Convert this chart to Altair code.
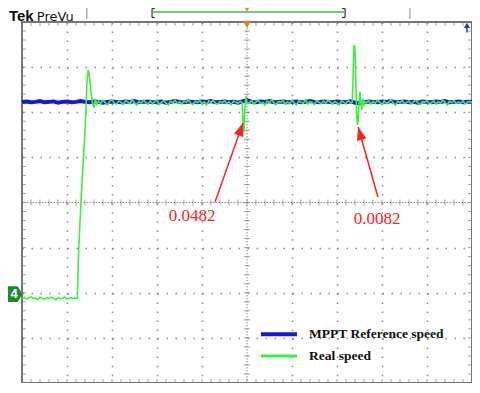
import altair as alt
import pandas as pd
import numpy as np

# ---------------- data (in screen divisions: x 0..10, y -4..4) ----------------
blue_step = 0.1
blue_v = [2.23,2.24,2.22,2.23,2.25,2.22,2.23,2.24,2.21,2.23,
          2.24,2.22,2.23,2.25,2.23,2.22,2.24,2.23,2.21,2.23,
          2.24,2.23,2.22,2.24,2.23,2.25,2.22,2.23,2.24,2.22,
          2.23,2.24,2.21,2.23,2.25,2.23,2.22,2.24,2.23,2.22,
          2.24,2.23,2.25,2.22,2.23,2.24,2.22,2.23,2.21,2.24,
          2.27,2.23,2.22,2.24,2.23,2.25,2.22,2.23,2.24,2.22,
          2.23,2.24,2.22,2.23,2.25,2.23,2.22,2.24,2.23,2.22,
          2.24,2.23,2.22,2.24,2.21,2.20,2.22,2.24,2.23,2.22,
          2.24,2.23,2.25,2.22,2.23,2.24,2.22,2.23,2.21,2.24,
          2.23,2.22,2.24,2.23,2.25,2.22,2.23,2.24,2.22,2.23,
          2.23]

green_pre_start, green_step = 0.0, 0.05
green_pre_v = [-2.13,-2.10,-2.14,-2.11,-2.09,-2.13,-2.12,-2.15,-2.10,-2.12,
               -2.14,-2.11,-2.13,-2.10,-2.12,-2.15,-2.11,-2.13,-2.12,-2.10,
               -2.14,-2.12,-2.11,-2.13,-2.12]
green_rise_t = [1.23,1.245,1.255,1.28,1.31,1.35,1.39,1.42,1.44,1.46,1.475,1.49,1.51,1.53,1.55,1.57,1.60,1.63,1.66]
green_rise_v = [-2.12,-1.6,-1.16,-0.61,0.0,0.72,1.39,2.0,2.6,2.85,2.94,2.88,2.7,2.5,2.32,2.16,2.12,2.3,2.18]
green_mid1_start = 1.70
green_mid1_v = [2.25,2.19,2.27,2.21,2.16,2.24,2.28,2.20,2.18,2.25,
                2.22,2.17,2.26,2.23,2.19,2.28,2.21,2.16,2.24,2.20,
                2.27,2.22,2.18,2.25,2.19,2.23,2.28,2.17,2.22,2.26,
                2.20,2.16,2.24,2.21,2.27,2.19,2.23,2.18,2.25,2.22,
                2.28,2.20,2.17,2.24,2.21,2.26,2.19,2.23,2.16,2.25,
                2.22,2.27,2.20,2.18,2.24,2.21,2.26,2.19,2.23,2.17,
                2.25,2.22,2.20,2.24]
green_dip_t = [4.89,4.905,4.92,4.935,4.95,4.965,4.98,5.00]
green_dip_v = [2.21,1.95,1.55,1.62,2.05,2.22,2.36,2.2]
green_mid2_start = 5.05
green_mid2_v = [2.20,2.26,2.18,2.23,2.27,2.19,2.22,2.16,2.25,2.21,
                2.28,2.20,2.17,2.24,2.22,2.26,2.18,2.23,2.19,2.27,
                2.21,2.16,2.25,2.22,2.20,2.28,2.18,2.24,2.21,2.17,
                2.26,2.22,2.19,2.25,2.20,2.27,2.23,2.18,2.24,2.21,
                2.16,2.25,2.22,2.19,2.26,2.21]
green_spike_t = [7.34,7.36,7.375,7.39,7.405,7.42,7.44,7.455,7.47,7.49,7.51,7.53,7.55,7.57,7.60,7.62]
green_spike_v = [2.22,2.9,3.45,3.49,3.3,2.6,1.9,1.72,1.8,2.2,2.45,2.2,2.05,2.3,2.15,2.24]
green_mid3_start = 7.65
green_mid3_v = [2.21,2.26,2.18,2.24,2.20,2.27,2.22,2.17,2.25,2.19,
                2.23,2.28,2.20,2.16,2.24,2.21,2.26,2.19,2.22,2.25,
                2.18,2.23,2.27,2.20,2.17,2.24,2.22,2.26,2.19,2.21,
                2.25,2.18,2.23,2.20,2.27,2.22,2.16,2.24,2.21,2.26,
                2.19,2.23,2.20,2.25,2.18,2.22,2.24,2.21]

legend_labels = ["MPPT Reference speed", "Real speed"]
annot_labels = ["0.0482", "0.0082"]
header_labels = ["Tek", "PreVu"]
channel_label = "4"

BLUE = "#1414e6"
GREEN = "#3af23a"
RED = "#ff2222"

# ---------------- build tables ----------------
def seg(start, vals):
    return [round(start + i * green_step, 4) for i in range(len(vals))], list(vals)

gt, gv = [], []
for t, v in [seg(green_pre_start, green_pre_v), (green_rise_t, green_rise_v),
             seg(green_mid1_start, green_mid1_v), (green_dip_t, green_dip_v),
             seg(green_mid2_start, green_mid2_v), (green_spike_t, green_spike_v),
             seg(green_mid3_start, green_mid3_v)]:
    gt += t
    gv += v
green_df = pd.DataFrame({"t": gt, "v": gv})
blue_df = pd.DataFrame({"t": [round(i * blue_step, 3) for i in range(len(blue_v))], "v": blue_v})

xs = alt.Scale(domain=[0, 10], nice=False, zero=False)
ys = alt.Scale(domain=[-4, 4], nice=False, zero=False)
xaxis = alt.Axis(values=[1, 2, 3, 4, 6, 7, 8, 9], grid=True, gridColor="#8c8c8c", gridWidth=1.5,
                 gridDash=[1.5, 7.53], domain=False, ticks=False, labels=False, title=None)
yaxis = alt.Axis(values=[-3, -2, -1, 1, 2, 3], grid=True, gridColor="#8c8c8c", gridWidth=1.5,
                 gridDash=[1.5, 7.5], domain=False, ticks=False, labels=False, title=None)


def X(f):
    return alt.X(f, type="quantitative", scale=xs, axis=xaxis)


def Y(f):
    return alt.Y(f, type="quantitative", scale=ys, axis=yaxis)


layers = []

# center cross lines
layers.append(alt.Chart(pd.DataFrame({"y": [0.0]})).mark_rule(color="#8a8a8a", strokeWidth=1, strokeDash=[1.5, 1.5]).encode(y=Y("y")))
layers.append(alt.Chart(pd.DataFrame({"x": [5.0]})).mark_rule(color="#8a8a8a", strokeWidth=1, strokeDash=[1.5, 1.5]).encode(x=X("x")))

xt = np.round(np.arange(0, 10.001, 0.2), 3)
yt = np.round(np.arange(-4, 4.001, 0.2), 3)
layers.append(alt.Chart(pd.DataFrame({"x": xt, "y": 0.0})).mark_tick(orient="vertical", size=6, thickness=1, color="#7a7a7a").encode(x=X("x"), y=Y("y")))
layers.append(alt.Chart(pd.DataFrame({"x": 5.0, "y": yt})).mark_tick(orient="horizontal", size=6, thickness=1, color="#7a7a7a").encode(x=X("x"), y=Y("y")))
# frame ticks
layers.append(alt.Chart(pd.DataFrame({"x": xt, "y": 4.0})).mark_tick(orient="vertical", size=4, thickness=1, yOffset=2, color="#7a7a7a").encode(x=X("x"), y=Y("y")))
layers.append(alt.Chart(pd.DataFrame({"x": xt, "y": -4.0})).mark_tick(orient="vertical", size=4, thickness=1, yOffset=-2, color="#7a7a7a").encode(x=X("x"), y=Y("y")))
layers.append(alt.Chart(pd.DataFrame({"x": 0.0, "y": yt})).mark_tick(orient="horizontal", size=4, thickness=1, xOffset=2, color="#7a7a7a").encode(x=X("x"), y=Y("y")))
layers.append(alt.Chart(pd.DataFrame({"x": 10.0, "y": yt})).mark_tick(orient="horizontal", size=4, thickness=1, xOffset=-2, color="#7a7a7a").encode(x=X("x"), y=Y("y")))

# traces
layers.append(alt.Chart(blue_df).mark_line(color=BLUE, strokeWidth=4).encode(x=X("t"), y=Y("v")))
layers.append(alt.Chart(green_df).mark_line(color=GREEN, strokeWidth=1.6).encode(x=X("t"), y=Y("v")))

# legend
leg_df = pd.DataFrame({"x": [5.31, 5.31], "x2": [6.11, 6.11], "y": [-2.92, -3.40],
                       "lab": legend_labels, "c": [BLUE, GREEN], "w": [4, 3]})
layers.append(alt.Chart(leg_df).mark_rule().encode(
    x=X("x"), x2=alt.X2("x2"), y=Y("y"),
    color=alt.Color("c:N", scale=None), strokeWidth=alt.StrokeWidth("w:Q", scale=None)))
leg_df["tx"] = 6.38
layers.append(alt.Chart(leg_df).mark_text(align="left", baseline="middle", font="Liberation Serif",
                                          fontWeight="bold", fontSize=13.5, color="#111").encode(
    x=X("tx"), y=Y("y"), text="lab:N"))

# red arrows
arr_df = pd.DataFrame({"x": [4.29, 7.91], "y": [0.011, 0.122], "x2": [4.91, 7.47], "y2": [1.762, 1.673],
                       "ang": [19.5, 344.1]})
layers.append(alt.Chart(arr_df).mark_rule(color=RED, strokeWidth=1.5).encode(
    x=X("x"), x2=alt.X2("x2"), y=Y("y"), y2=alt.Y2("y2")))
layers.append(alt.Chart(arr_df).mark_point(shape="M0,0L0.55,1.45L-0.55,1.45Z", size=324, filled=True,
                                           color=RED, opacity=1, strokeWidth=0).encode(
    x=X("x2"), y=Y("y2"), angle=alt.Angle("ang:Q", scale=None)))
lab_df = pd.DataFrame({"x": [3.78, 7.89], "y": [-0.30, -0.37], "lab": annot_labels})
layers.append(alt.Chart(lab_df).mark_text(font="Liberation Serif", fontSize=17, color=RED,
                                          align="center", baseline="middle").encode(
    x=X("x"), y=Y("y"), text="lab:N"))

# header
hdr_df = pd.DataFrame({"x": [-0.29, 0.33], "y": [4.03, 4.03], "lab": header_labels})
layers.append(alt.Chart(hdr_df.iloc[[0]]).mark_text(font="Liberation Sans", fontWeight="bold", fontSize=15,
                                                    align="left", baseline="alphabetic", color="#111").encode(
    x=X("x"), y=Y("y"), text="lab:N"))
layers.append(alt.Chart(hdr_df.iloc[[1]]).mark_text(font="DejaVu Sans", fontSize=13,
                                                    align="left", baseline="alphabetic", color="#111").encode(
    x=X("x"), y=Y("y"), text="lab:N"))
sep_df = pd.DataFrame({"x": [1.44, 8.62], "y": [4.31, 4.31], "y2": [4.066, 4.066]})
layers.append(alt.Chart(sep_df).mark_rule(color="#b0b0b0", strokeWidth=1.5).encode(x=X("x"), y=Y("y"), y2=alt.Y2("y2")))
br_df = pd.DataFrame({
    "x": [2.89, 7.18, 2.89, 2.89, 7.11, 7.11],
    "x2": [2.89, 7.18, 2.95, 2.95, 7.18, 7.18],
    "y": [4.299, 4.299, 4.299, 4.10, 4.299, 4.10],
    "y2": [4.10, 4.10, 4.299, 4.10, 4.299, 4.10]})
layers.append(alt.Chart(br_df).mark_rule(color="#333", strokeWidth=1.2).encode(
    x=X("x"), x2=alt.X2("x2"), y=Y("y"), y2=alt.Y2("y2")))
layers.append(alt.Chart(pd.DataFrame({"x": [2.90], "x2": [7.17], "y": [4.222]})).mark_rule(
    color="#3cc03c", strokeWidth=1.5).encode(x=X("x"), x2=alt.X2("x2"), y=Y("y")))
layers.append(alt.Chart(pd.DataFrame({"x": [5.0], "y": [4.28]})).mark_point(
    shape="triangle-down", size=30, filled=True, color="#f08a24", opacity=1).encode(x=X("x"), y=Y("y")))

# trigger marker and blue arrow inside frame
layers.append(alt.Chart(pd.DataFrame({"x": [5.0], "y": [3.945]})).mark_point(
    shape="triangle-down", size=70, filled=True, color="#f07818", opacity=1).encode(x=X("x"), y=Y("y")))
layers.append(alt.Chart(pd.DataFrame({"x": [9.889], "y": [3.925]})).mark_point(
    shape="triangle-up", size=40, filled=True, color="#1a3ad0", opacity=1).encode(x=X("x"), y=Y("y")))
layers.append(alt.Chart(pd.DataFrame({"x": [9.889], "y": [3.92], "y2": [3.77]})).mark_rule(
    color="#1a3ad0", strokeWidth=1.5).encode(x=X("x"), y=Y("y"), y2=alt.Y2("y2")))

# channel 4 ground marker
ch_df = pd.DataFrame({"x": [-0.155], "y": [-2.03], "lab": [channel_label]})
layers.append(alt.Chart(ch_df).mark_point(shape="M-1,-1.05L0.35,-1.05L1,0L0.35,1.05L-1,1.05Z", size=225,
                                          filled=True, color="#1d8a2c", opacity=1).encode(x=X("x"), y=Y("y")))
layers.append(alt.Chart(ch_df).mark_text(font="Liberation Sans", fontWeight="bold", fontSize=13,
                                         color="white", align="center", baseline="middle", dx=-1).encode(
    x=X("x"), y=Y("y"), text="lab:N"))

chart = alt.layer(*layers).properties(
    width=450, height=361,
    autosize=alt.AutoSizeParams(type="none"),
    padding={"left": 14, "top": 14, "right": 0, "bottom": 0},
    background="white",
).configure_view(stroke="#4a4a4a", strokeWidth=1.5)

chart.save("out.html", embed_options={"renderer": "svg", "actions": False})
